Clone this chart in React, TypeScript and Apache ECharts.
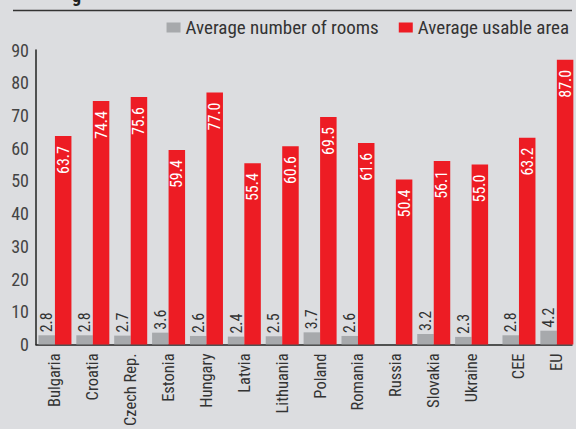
import React, { useEffect, useRef } from "react";
import * as echarts from "echarts";

const categories = ["Bulgaria", "Croatia", "Czech Rep.", "Estonia", "Hungary", "Latvia", "Lithuania", "Poland", "Romania", "Russia", "Slovakia", "Ukraine", "CEE", "EU"];
const positions = [0, 1, 2, 3, 4, 5, 6, 7, 8, 9, 10, 11, 12.25, 13.25];
const rooms: (number | null)[] = [2.8, 2.8, 2.7, 3.6, 2.6, 2.4, 2.5, 3.7, 2.6, null, 3.2, 2.3, 2.8, 4.2];
const area = [63.7, 74.4, 75.6, 59.4, 77.0, 55.4, 60.6, 69.5, 61.6, 50.4, 56.1, 55.0, 63.2, 87.0];
const yTicks = { min: 0, max: 90, interval: 10 };

const FONT = "'Liberation Sans Narrow', 'Arial Narrow', 'Roboto Condensed', sans-serif";

export default function App() {
  const ref = useRef<HTMLDivElement>(null);
  useEffect(() => {
    if (!ref.current) return;
    const chart = echarts.init(ref.current, undefined, { renderer: "svg" });
    const roomsData = rooms
      .map((v, i) => (v == null ? null : [positions[i], v]))
      .filter((d) => d !== null);
    const areaData = area.map((v, i) => [positions[i], v]);
    chart.setOption({
      animation: false,
      backgroundColor: "#dcdde0",
      textStyle: { fontFamily: FONT },
      graphic: [
        { type: "line", shape: { x1: 13, y1: 10.5, x2: 572, y2: 10.5 }, style: { stroke: "#333", lineWidth: 1.5 } },
        { type: "text", x: 72, y: 4, style: { text: "g", fontFamily: FONT, fontWeight: "bold", fontSize: 18, fill: "#222", verticalAlign: "bottom" } },
      ],
      legend: {
        right: 2,
        top: 13,
        itemWidth: 14,
        itemHeight: 10,
        itemGap: 20,
        icon: "rect",
        textStyle: { fontSize: 19, color: "#333", fontFamily: FONT },
        data: ["Average number of rooms", "Average usable area"],
      },
      grid: { left: 36, right: 4, top: 50, bottom: 84 },
      xAxis: {
        type: "value",
        min: -0.5,
        max: 13.65,
        splitLine: { show: false },
        axisTick: { show: false },
        axisLine: { show: true, onZero: false, lineStyle: { color: "#222", width: 1.5 } },
        axisLabel: {
          customValues: positions,
          rotate: 90,
          margin: 9,
          fontSize: 16.5,
          color: "#333",
          fontFamily: FONT,
          formatter: (v: number) => {
            const idx = positions.findIndex((p) => Math.abs(p - v) < 1e-6);
            return idx >= 0 ? categories[idx] : "";
          },
        },
      },
      yAxis: {
        type: "value",
        min: yTicks.min,
        max: yTicks.max,
        interval: yTicks.interval,
        splitLine: { show: false },
        axisTick: { show: false },
        axisLine: { show: true, onZero: false, lineStyle: { color: "#222", width: 1.5 } },
        axisLabel: { fontSize: 18, color: "#444", margin: 7, fontFamily: FONT },
      },
      series: [
        {
          name: "Average number of rooms",
          type: "bar",
          data: roomsData,
          barWidth: 16.5,
          barGap: "0%",
          itemStyle: { color: "#a7a9ac" },
          label: {
            show: true,
            position: "top",
            rotate: 90,
            align: "left",
            verticalAlign: "middle",
            distance: 3,
            fontSize: 16,
            color: "#333",
            fontFamily: FONT,
            formatter: (p: any) => Number(p.value[1]).toFixed(1),
          },
        },
        {
          name: "Average usable area",
          type: "bar",
          data: areaData,
          barWidth: 16.5,
          barGap: "0%",
          itemStyle: { color: "#ed1c24" },
          label: {
            show: true,
            position: "insideTop",
            rotate: 90,
            align: "right",
            verticalAlign: "middle",
            distance: 10,
            fontSize: 16,
            color: "#fff",
            fontFamily: FONT,
            formatter: (p: any) => Number(p.value[1]).toFixed(1),
          },
        },
      ],
    });
    return () => chart.dispose();
  }, []);
  return <div ref={ref} style={{ position: "fixed", left: 0, top: 0, width: 576, height: 429 }} />;
}
